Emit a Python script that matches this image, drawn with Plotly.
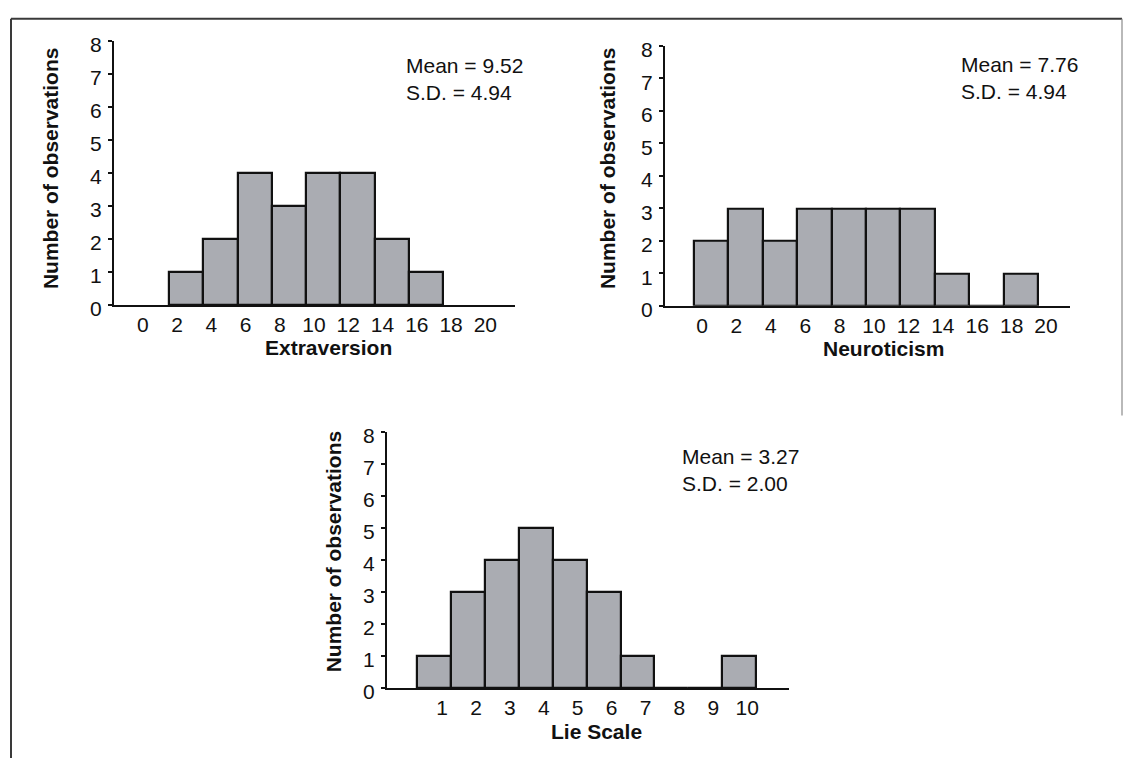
import plotly.graph_objects as go

# Frequency distributions of questionnaire scores
extra_bins = [2, 4, 6, 8, 10, 12, 14, 16]
extra_counts = [1, 2, 4, 3, 4, 4, 2, 1]
extra_ticks = [0, 2, 4, 6, 8, 10, 12, 14, 16, 18, 20]

neuro_bins = [0, 2, 4, 6, 8, 10, 12, 14, 16, 18]
neuro_counts = [2, 3, 2, 3, 3, 3, 3, 1, 0, 1]
neuro_ticks = [0, 2, 4, 6, 8, 10, 12, 14, 16, 18, 20]

lie_scores = [1, 2, 3, 4, 5, 6, 7, 8, 9, 10]
lie_counts = [1, 3, 4, 5, 4, 3, 1, 0, 0, 1]
lie_ticks = [1, 2, 3, 4, 5, 6, 7, 8, 9, 10]

y_ticks = [0, 1, 2, 3, 4, 5, 6, 7, 8]

stats = {
    "extra": ("Mean = 9.52", "S.D. = 4.94"),
    "neuro": ("Mean = 7.76", "S.D. = 4.94"),
    "lie": ("Mean = 3.27", "S.D. = 2.00"),
}

W, H = 1127, 773
FONT = "Liberation Sans, Arial, Helvetica, sans-serif"
INK = "#111111"
BAR_FILL = "#aaacb2"


def px_x(p):
    return p / W


def px_y(p):
    return 1 - p / H


fig = go.Figure()

bar_style = dict(marker=dict(color=BAR_FILL, line=dict(color=INK, width=2.2)),
                 showlegend=False, hoverinfo="x+y")

fig.add_trace(go.Bar(x=extra_bins, y=extra_counts, width=2, offset=0,
                     xaxis="x", yaxis="y", **bar_style))
fig.add_trace(go.Bar(x=neuro_bins, y=neuro_counts, width=2, offset=0,
                     xaxis="x2", yaxis="y2", **bar_style))
fig.add_trace(go.Bar(x=lie_scores, y=lie_counts, width=1,
                     xaxis="x3", yaxis="y3", **bar_style))

tick_font = dict(family=FONT, size=21, color=INK)


def xaxis(domain, rng, ticks, anchor):
    return dict(domain=domain, range=rng, anchor=anchor,
                tickmode="array", tickvals=ticks, ticktext=[str(t) for t in ticks],
                showline=True, linecolor=INK, linewidth=2, ticks="",
                showgrid=False, zeroline=False, tickfont=tick_font,
                ticklabelshift=8, ticklabelstandoff=0, fixedrange=True)


def yaxis(domain, anchor):
    return dict(domain=domain, range=[0, 8], anchor=anchor,
                tickmode="array", tickvals=y_ticks,
                showline=True, linecolor=INK, linewidth=2,
                ticks="outside", ticklen=4, tickwidth=2, tickcolor=INK,
                showgrid=False, zeroline=False, tickfont=tick_font,
                ticklabelstandoff=2, ticklabelshift=4, fixedrange=True)


fig.update_layout(
    width=W, height=H,
    margin=dict(l=0, r=0, t=0, b=0),
    paper_bgcolor="white", plot_bgcolor="white",
    bargap=0,
    font=dict(family=FONT, color=INK),
    xaxis=xaxis([px_x(114), px_x(515)], [-1.21, 22.2], extra_ticks, "y"),
    yaxis=yaxis([px_y(306), px_y(34)], "x"),
    xaxis2=xaxis([px_x(665), px_x(1070)], [-1.69, 21.86], neuro_ticks, "y2"),
    yaxis2=yaxis([px_y(307), px_y(39)], "x2"),
    xaxis3=xaxis([px_x(387), px_x(789)], [-0.39, 11.47], lie_ticks, "y3"),
    yaxis3=yaxis([px_y(701), px_y(437)], "x3"),
)

title_font = dict(family=FONT, size=21, color=INK, weight="bold")
note_font = dict(family=FONT, size=21, color=INK)

annotations = []
# y-axis titles
for cx, cy in [(50, 165), (607, 165), (333, 560)]:
    annotations.append(dict(x=px_x(cx), y=px_y(cy), xref="paper", yref="paper",
                            text="Number of observations", textangle=-90,
                            showarrow=False, font=title_font,
                            xanchor="center", yanchor="middle"))
# x-axis titles
for label, cx, cy in [("Extraversion", 328, 350), ("Neuroticism", 883, 351),
                      ("Lie Scale", 596, 746)]:
    annotations.append(dict(x=px_x(cx), y=px_y(cy), xref="paper", yref="paper",
                            text=label, showarrow=False, font=title_font,
                            xanchor="center", yanchor="middle"))
# summary statistics
for key, lx, ty in [("extra", 404, 45), ("neuro", 959, 44), ("lie", 680, 448)]:
    mean_txt, sd_txt = stats[key]
    annotations.append(dict(x=px_x(lx), y=px_y(ty), xref="paper", yref="paper",
                            text=mean_txt + "<br>" + sd_txt, align="left",
                            showarrow=False, font=note_font,
                            xanchor="left", yanchor="top"))
fig.update_layout(annotations=annotations)

# page frame
frame = dict(type="line", xref="paper", yref="paper", line=dict(color="#3a3a3a", width=2))
fig.add_shape(**frame, x0=px_x(11), x1=px_x(11), y0=px_y(11), y1=0)
fig.add_shape(**frame, x0=px_x(11), x1=px_x(1122), y0=px_y(11), y1=px_y(11))
fig.add_shape(type="line", xref="paper", yref="paper",
              line=dict(color="#8a8a8a", width=1.2),
              x0=px_x(1122), x1=px_x(1122), y0=px_y(11), y1=px_y(420))

fig.write_html("out.html", config={"displayModeBar": False})
